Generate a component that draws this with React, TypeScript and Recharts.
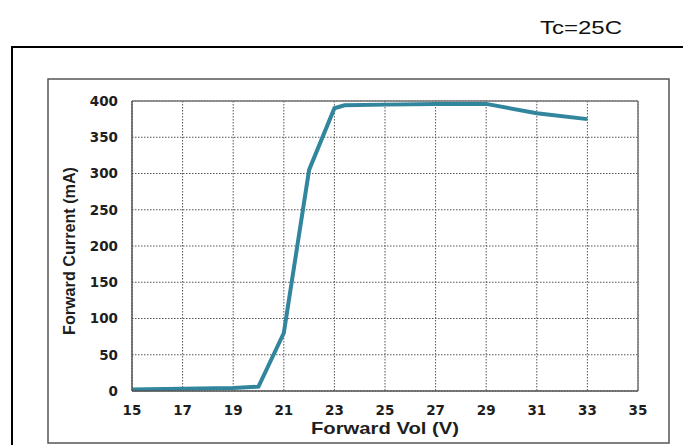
import React from 'react';
import { LineChart, Line, XAxis, YAxis, CartesianGrid, ReferenceLine } from 'recharts';

// Forward voltage (V) and current (mA)
const volts = [15, 17, 19, 20, 21, 22, 23, 23.4, 25, 27, 29, 31, 33];
const currentMa = [2, 3, 4, 6, 80, 305, 390, 394, 395, 396, 396, 383, 375];

const xTicks = [15, 17, 19, 21, 23, 25, 27, 29, 31, 33, 35];
const yTicks = [0, 50, 100, 150, 200, 250, 300, 350, 400];

const data = volts.map((v, i) => ({ v, ma: currentMa[i] }));

const LINE = '#31859c';
const TICK_FONT = { fontFamily: 'DejaVu Sans', fontWeight: 700, fontSize: 13.5, fill: '#1e1e1e' };

const XTitle = ({ viewBox }: any) => (
  <text
    x={viewBox.x + viewBox.width / 2}
    y={viewBox.y + 43}
    textAnchor="middle"
    fontFamily="Liberation Sans"
    fontWeight={700}
    fontSize={17}
    textLength={148}
    lengthAdjust="spacingAndGlyphs"
    fill="#1e1e1e"
  >
    Forward Vol (V)
  </text>
);

const YTitle = ({ viewBox }: any) => {
  const cx = 69;
  const cy = viewBox.y + viewBox.height / 2 + 5;
  return (
    <text
      x={cx}
      y={cy}
      textAnchor="middle"
      dominantBaseline="central"
      transform={`rotate(-90, ${cx}, ${cy})`}
      fontFamily="Liberation Sans"
      fontWeight={700}
      fontSize={17}
      textLength={168}
      lengthAdjust="spacingAndGlyphs"
      fill="#1e1e1e"
    >
      Forward Current (mA)
    </text>
  );
};

export default function App() {
  return (
    <div
      style={{ position: 'absolute', left: 0, top: 0, width: 683, height: 445, overflow: 'hidden', background: '#fff' }}
    >
      <svg width={683} height={445} style={{ position: 'absolute', left: 0, top: 0 }}>
        <text
          x={581}
          y={34}
          textAnchor="middle"
          fontFamily="Liberation Sans"
          fontSize={19}
          textLength={82}
          lengthAdjust="spacingAndGlyphs"
          fill="#111"
        >
          Tc=25C
        </text>
        <rect x={12} y={47} width={700} height={500} fill="none" stroke="#000" strokeWidth={2} />
        <rect x={48} y={79} width={621} height={364} fill="none" stroke="#555" strokeWidth={1.5} />
      </svg>
      <div style={{ position: 'absolute', left: 0, top: 0 }}>
        <LineChart width={683} height={445} data={data} margin={{ top: 101, right: 45, bottom: 0, left: 0 }}>
          <CartesianGrid stroke="#555" strokeDasharray="1.5 1.5" />
          <XAxis
            type="number"
            dataKey="v"
            domain={[15, 35]}
            ticks={xTicks}
            height={54}
            tickLine={false}
            tickSize={6}
            tickMargin={8}
            axisLine={{ stroke: '#555', strokeWidth: 1.5 }}
            tick={TICK_FONT}
            label={<XTitle />}
          />
          <YAxis
            type="number"
            domain={[0, 400]}
            ticks={yTicks}
            width={132}
            tickLine={false}
            tickSize={6}
            tickMargin={8}
            axisLine={{ stroke: '#555', strokeWidth: 1.5 }}
            tick={TICK_FONT}
            label={<YTitle />}
          />
          <ReferenceLine y={400} stroke="#777" strokeWidth={1.5} />
          <ReferenceLine x={35} stroke="#777" strokeWidth={1.5} />
          <Line
            type="linear"
            dataKey="ma"
            stroke={LINE}
            strokeWidth={4}
            dot={false}
            isAnimationActive={false}
          />
        </LineChart>
      </div>
    </div>
  );
}
